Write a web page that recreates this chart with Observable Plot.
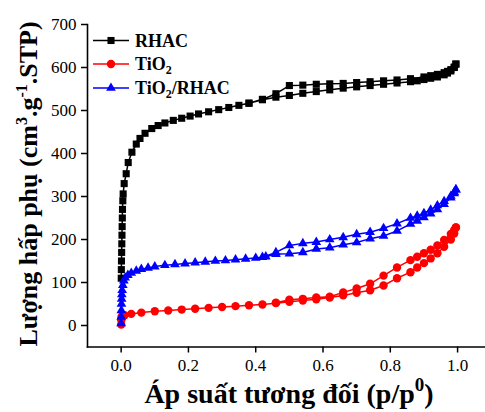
<!DOCTYPE html>
<html><head><meta charset="utf-8">
<script src="https://cdn.jsdelivr.net/npm/d3@7"></script>
<script src="https://cdn.jsdelivr.net/npm/@observablehq/plot@0.6"></script>
<style>
body{margin:0;background:#fff;}
#chart{position:relative;width:485px;height:412px;}
</style></head><body><div id="chart"></div>
<script>
// Relative pressure p/p0 and adsorbed volume (cm3/g STP)
const rhacAds = [[0.0003,110],[0.0006,130],[0.001,150],[0.0015,170],[0.002,190],[0.0025,210],[0.003,230],[0.0035,250],[0.004,270],[0.005,290],[0.006,306],[0.009,330],[0.015,353],[0.021,379],[0.032,403],[0.045,422],[0.056,435],[0.071,447],[0.091,458],[0.11,465],[0.13,471],[0.155,477],[0.18,482],[0.205,487],[0.23,492],[0.26,497],[0.29,502],[0.32,507],[0.35,512],[0.38,517],[0.42,525],[0.46,531],[0.5,535],[0.54,540],[0.58,544],[0.62,548],[0.66,552],[0.7,555],[0.74,558],[0.78,561],[0.82,564],[0.86,567],[0.88,569],[0.9,572],[0.92,575],[0.94,578],[0.96,583],[0.97,587],[0.98,592],[0.99,600],[0.995,608]];
const rhacDes = [[0.995,608],[0.99,601],[0.98,595],[0.97,591],[0.96,588],[0.94,584],[0.92,581],[0.9,578],[0.86,574],[0.82,571],[0.78,569],[0.74,567],[0.7,565],[0.66,563],[0.62,562],[0.58,561],[0.54,559],[0.5,558],[0.46,539],[0.42,526],[0.38,517]];
const tio2Ads = [[0.0002,2],[0.0005,12],[0.001,19],[0.003,22],[0.01,24],[0.03,27],[0.06,30],[0.1,33],[0.14,35],[0.18,37],[0.22,39],[0.26,41],[0.3,43],[0.34,45],[0.38,47],[0.42,49],[0.46,52],[0.5,55],[0.54,58],[0.58,61],[0.62,65],[0.66,70],[0.7,76],[0.74,82],[0.78,93],[0.82,110],[0.86,124],[0.88,135],[0.9,145],[0.92,156],[0.94,168],[0.96,183],[0.98,200],[0.99,214],[0.995,228]];
const tio2Des = [[0.995,228],[0.99,222],[0.98,213],[0.96,199],[0.94,186],[0.92,176],[0.9,168],[0.88,160],[0.86,152],[0.82,135],[0.78,116],[0.74,97],[0.7,86],[0.66,77],[0.62,67],[0.58,65],[0.54,62],[0.5,60],[0.46,53]];
const compAds = [[0.0001,5],[0.0003,20],[0.0006,35],[0.001,50],[0.0015,62],[0.002,72],[0.003,82],[0.005,94],[0.008,104],[0.012,111],[0.02,117],[0.03,122],[0.045,127],[0.06,131],[0.08,134],[0.1,137],[0.13,140],[0.16,142],[0.19,144],[0.22,146],[0.25,148],[0.28,150],[0.31,151],[0.34,153],[0.37,155],[0.4,157],[0.43,160],[0.46,166],[0.5,167],[0.54,170],[0.58,178],[0.62,181],[0.66,188],[0.7,193],[0.74,202],[0.78,208],[0.82,220],[0.86,236],[0.88,243],[0.9,251],[0.92,260],[0.94,270],[0.96,282],[0.98,297],[0.99,307],[0.995,316]];
const compDes = [[0.995,316],[0.99,310],[0.98,301],[0.96,289],[0.94,279],[0.92,269],[0.9,261],[0.88,255],[0.86,250],[0.82,237],[0.78,226],[0.74,217],[0.7,212],[0.66,205],[0.62,200],[0.58,194],[0.54,191],[0.5,186],[0.46,170],[0.42,159]];

const seriesNames = ["RHAC", "TiO2", "TiO2/RHAC"];
const xTicks = [0, 0.2, 0.4, 0.6, 0.8, 1.0];
const yTicks = [0, 100, 200, 300, 400, 500, 600, 700];

const seriesData = [rhacAds.concat(rhacDes), tio2Ads.concat(tio2Des), compAds.concat(compDes)];
const colors = ["#000000", "#ff0000", "#0000ff"];
const symbols = ["square", "circle", "triangle"];
const radii = [4, 4.2, 3.6];

const marks = [
  Plot.axisX({ticks: xTicks, tickFormat: d3.format(".1f"), tickSize: 6, tickPadding: 6, label: null, fontSize: 17, strokeWidth: 1.5}),
  Plot.axisY({ticks: yTicks, tickSize: 6, tickPadding: 5, label: null, fontSize: 17, strokeWidth: 1.5}),
  Plot.frame({anchor: "left", strokeWidth: 1.6}),
  Plot.frame({anchor: "bottom", strokeWidth: 1.6})
];
seriesData.forEach((pts, i) => {
  const rows = pts.map(([p, v]) => ({p, v}));
  marks.push(Plot.line(rows, {x: "p", y: "v", stroke: colors[i], strokeWidth: 1.5}));
  marks.push(Plot.dot(rows, {x: "p", y: "v", symbol: symbols[i], r: radii[i], fill: colors[i], stroke: "none"}));
});

const plot = Plot.plot({
  width: 485, height: 412,
  marginLeft: 87, marginRight: 1, marginTop: 24, marginBottom: 65.5,
  x: {domain: [-0.1, 1.08]},
  y: {domain: [-50, 700]},
  style: {fontFamily: "Liberation Serif, Times New Roman, serif", fontSize: "17px", color: "#000", background: "#fff"},
  marks
});
document.getElementById("chart").appendChild(plot);

const svg = d3.select(plot);
const font = "Liberation Serif, Times New Roman, serif";

// Y axis title
const yt = svg.append("text")
  .attr("transform", "translate(37,184) rotate(-90)")
  .attr("text-anchor", "middle")
  .attr("font-family", font).attr("font-weight", "bold").attr("font-size", 26).attr("fill", "#000");
yt.append("tspan").text("Lượng hấp phụ (cm");
yt.append("tspan").attr("font-size", 16).attr("dy", -10).text("3");
yt.append("tspan").attr("dy", 10).text(".g");
yt.append("tspan").attr("font-size", 16).attr("dy", -10).text("-1");
yt.append("tspan").attr("dy", 10).text(".STP)");

// X axis title
const xt = svg.append("text")
  .attr("x", 289).attr("y", 403)
  .attr("text-anchor", "middle")
  .attr("font-family", font).attr("font-weight", "bold").attr("font-size", 28).attr("fill", "#000");
xt.append("tspan").text("Áp suất tương đối (p/p");
xt.append("tspan").attr("font-size", 19).attr("dy", -12).text("0");
xt.append("tspan").attr("dy", 12).text(")");

// Legend
const legY = [40.5, 64, 88];
seriesNames.forEach((name, i) => {
  const g = svg.append("g");
  g.append("line").attr("x1", 93).attr("x2", 129).attr("y1", legY[i]).attr("y2", legY[i])
    .attr("stroke", colors[i]).attr("stroke-width", 1.5);
  const sym = {square: d3.symbolSquare, circle: d3.symbolCircle, triangle: d3.symbolTriangle}[symbols[i]];
  g.append("path").attr("d", d3.symbol(sym, Math.PI * radii[i] * radii[i])())
    .attr("transform", `translate(111,${legY[i]})`).attr("fill", colors[i]);
  const t = g.append("text").attr("x", 135).attr("y", legY[i] + 6)
    .attr("text-anchor", "start")
    .attr("font-family", font).attr("font-weight", "bold").attr("font-size", 18).attr("fill", "#000");
  const parts = name.split("2");
  if (parts.length === 1) {
    t.text(name);
  } else {
    t.append("tspan").text(parts[0]);
    t.append("tspan").attr("font-size", 12).attr("dy", 4).text("2");
    t.append("tspan").attr("dy", -4).text(parts[1]);
  }
});
</script></body></html>
